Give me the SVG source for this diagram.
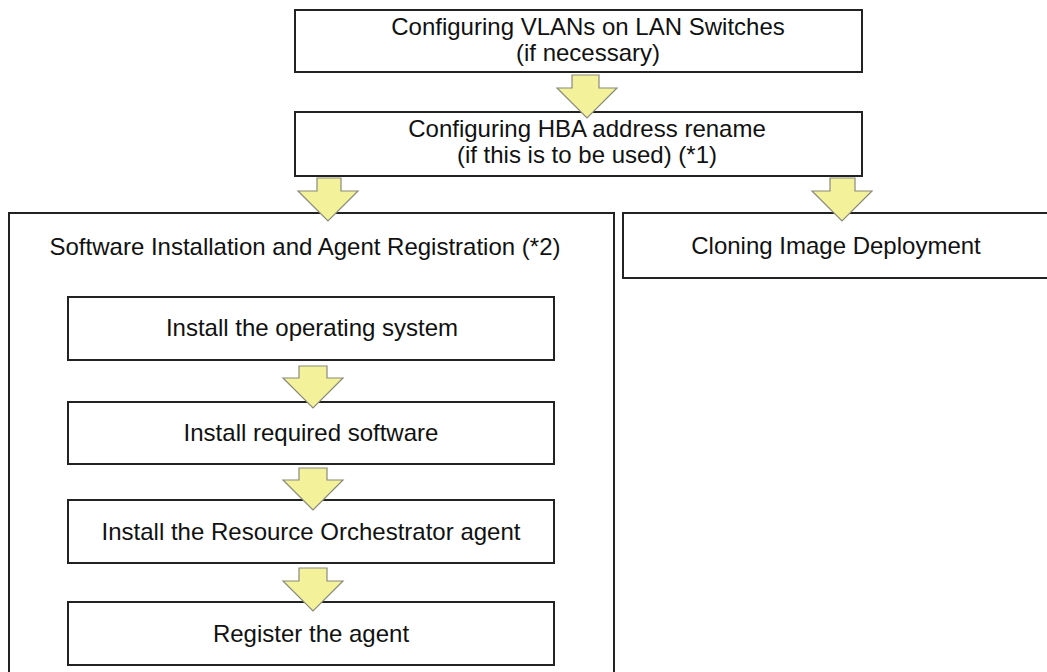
<svg xmlns="http://www.w3.org/2000/svg" width="1047" height="672" viewBox="0 0 1047 672">
<style>
.box{fill:#ffffff;stroke:#222222;stroke-width:2}
.t{font-family:"Liberation Sans",Arial,sans-serif;font-size:24px;fill:#111111;text-anchor:middle}
.arr{fill:#F3F29A;stroke:#8a8a7a;stroke-width:1.2;stroke-linejoin:miter}
</style>
<rect width="1047" height="672" fill="#ffffff"/>
<g id="node-vlan">
<rect class="box" x="295" y="10" width="567" height="62"/>
<text class="t" x="588" y="35">Configuring VLANs on LAN Switches</text>
<text class="t" x="588" y="61">(if necessary)</text>
</g>
<g id="node-hba">
<rect class="box" x="295" y="112" width="567" height="64"/>
<text class="t" x="587" y="137">Configuring HBA address rename</text>
<text class="t" x="587" y="163">(if this is to be used) (*1)</text>
</g>
<g id="node-software">
<rect class="box" x="9" y="213" width="605" height="470"/>
<text class="t" x="305" y="255">Software Installation and Agent Registration (*2)</text>
</g>
<g id="node-cloning">
<rect class="box" x="623" y="213" width="440" height="65"/>
<text class="t" x="836" y="254">Cloning Image Deployment</text>
</g>
<g id="node-os">
<rect class="box" x="68" y="297" width="486" height="63"/>
<text class="t" x="312" y="336">Install the operating system</text>
</g>
<g id="node-reqsw">
<rect class="box" x="68" y="402" width="486" height="62"/>
<text class="t" x="311" y="441">Install required software</text>
</g>
<g id="node-agent">
<rect class="box" x="68" y="500" width="486" height="63"/>
<text class="t" x="311" y="540">Install the Resource Orchestrator agent</text>
</g>
<g id="node-register">
<rect class="box" x="68" y="602" width="486" height="63"/>
<text class="t" x="311" y="642">Register the agent</text>
</g>
<g id="connectors">
<polygon class="arr" points="572,75 599,75 599,88 617,88 587,118 557,88 572,88"/>
<polygon class="arr" points="317,178 341,178 341,191 358,191 328,221 298,191 317,191"/>
<polygon class="arr" points="830,178 855,178 855,191 872,191 842,221 812,191 830,191"/>
<polygon class="arr" points="299,366 327,366 327,378 343,378 313,408 283,378 299,378"/>
<polygon class="arr" points="299,468 327,468 327,480 343,480 313,510 283,480 299,480"/>
<polygon class="arr" points="299,568 327,568 327,581 343,581 313,611 283,581 299,581"/>
</g>
</svg>
